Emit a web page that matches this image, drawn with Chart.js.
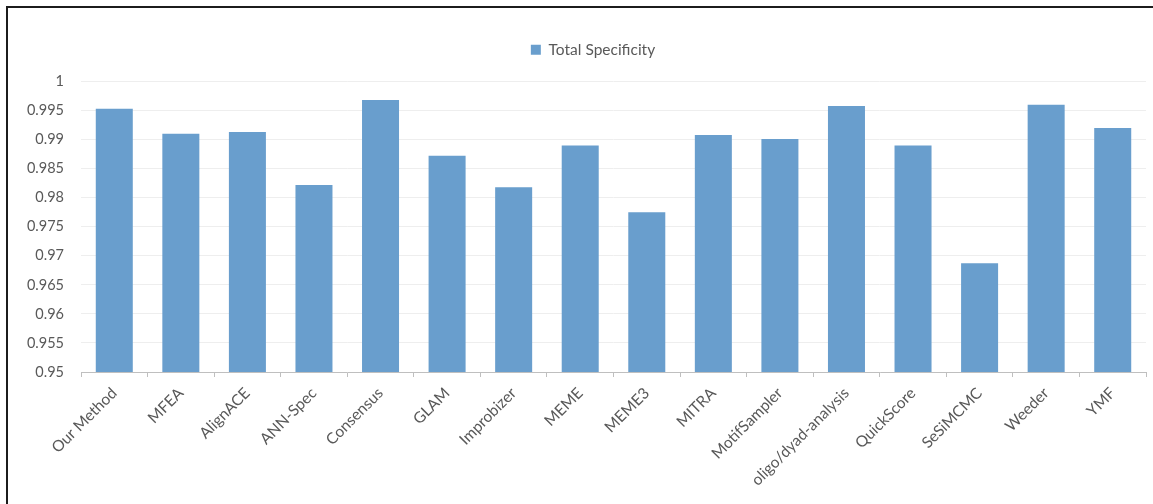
<!DOCTYPE html>
<html>
<head>
<meta charset="utf-8">
<script src="https://cdn.jsdelivr.net/npm/chart.js@4.4.1/dist/chart.umd.min.js"></script>
<style>
  html, body { margin: 0; padding: 0; background: #ffffff; }
  #wrap { position: relative; width: 1153px; height: 504px; overflow: hidden; }
  #frame { position: absolute; left: 6px; top: 6px; right: -10px; bottom: -10px;
           border-left: 2px solid #1c1c1c; border-top: 2px solid #1c1c1c; }
  canvas { position: absolute; left: 0; top: 0; }
</style>
</head>
<body>
<div id="wrap">
  <div id="frame"></div>
  <canvas id="c" width="1153" height="504"></canvas>
</div>
<script>
// Methods compared
const methods = [
  'Our Method', 'MFEA', 'AlignACE', 'ANN-Spec', 'Consensus', 'GLAM',
  'Improbizer', 'MEME', 'MEME3', 'MITRA', 'MotifSampler',
  'oligo/dyad-analysis', 'QuickScore', 'SeSiMCMC', 'Weeder', 'YMF'
];

// Total specificity per method
const totalSpecificity = [
  0.9953, 0.9910, 0.9913, 0.9822, 0.9968, 0.9872,
  0.9818, 0.9890, 0.9775, 0.9908, 0.9901,
  0.9958, 0.9890, 0.9687, 0.9960, 0.9920
];

const seriesName = 'Total Specificity';

// Value axis range and step
const yMin = 0.95;
const yMax = 1;
const yStep = 0.005;

const textColor = '#595959';
const fontFamily = 'Lato, "Open Sans", sans-serif';

// Extra room under the legend and a small horizontal nudge of its items
const legendGapBelow = 14;
const legendShiftX = 20;

const legendSpacing = {
  id: 'legendSpacing',
  beforeUpdate(chart) {
    const lg = chart.legend;
    if (!lg || lg._spacingPatched) return;
    const fit = lg.fit.bind(lg);
    lg.fit = function () { fit(); this.height += legendGapBelow; };
    const draw = lg.draw.bind(lg);
    lg.draw = function () {
      const ctx = this.ctx;
      ctx.save();
      ctx.translate(legendShiftX, 0);
      draw();
      ctx.restore();
    };
    lg._spacingPatched = true;
  }
};

new Chart(document.getElementById('c'), {
  type: 'bar',
  data: {
    labels: methods,
    datasets: [{
      label: seriesName,
      data: totalSpecificity,
      backgroundColor: '#699ecd',
      borderWidth: 0,
      categoryPercentage: 1,
      barPercentage: 0.556
    }]
  },
  plugins: [legendSpacing],
  options: {
    responsive: false,
    devicePixelRatio: 1,
    animation: false,
    layout: { padding: { top: 16, right: 7, left: 0, bottom: 0 } },
    plugins: {
      tooltip: { enabled: false },
      legend: {
        position: 'top',
        labels: {
          color: textColor,
          font: { family: fontFamily, size: 15.5 },
          boxWidth: 10,
          boxHeight: 10,
          padding: 26
        }
      }
    },
    scales: {
      x: {
        offset: true,
        grid: {
          display: true,
          drawOnChartArea: false,
          drawTicks: true,
          tickLength: 5,
          color: '#bfbfbf',
          offset: true
        },
        border: { display: true, color: '#bfbfbf', width: 1 },
        ticks: {
          color: textColor,
          font: { family: fontFamily, size: 15.5 },
          minRotation: 45,
          maxRotation: 45,
          autoSkip: false,
          padding: 7
        },
        afterFit: (scale) => { scale.height = 132; }
      },
      y: {
        min: yMin,
        max: yMax,
        grid: { color: '#eeeeee', drawTicks: false, lineWidth: 1 },
        border: { display: false },
        ticks: {
          stepSize: yStep,
          color: textColor,
          font: { family: fontFamily, size: 14.5 },
          padding: 17,
          callback: (v) => String(Number(v.toFixed(3)))
        },
        afterFit: (scale) => { scale.width = 81; }
      }
    }
  }
});
</script>
</body>
</html>
